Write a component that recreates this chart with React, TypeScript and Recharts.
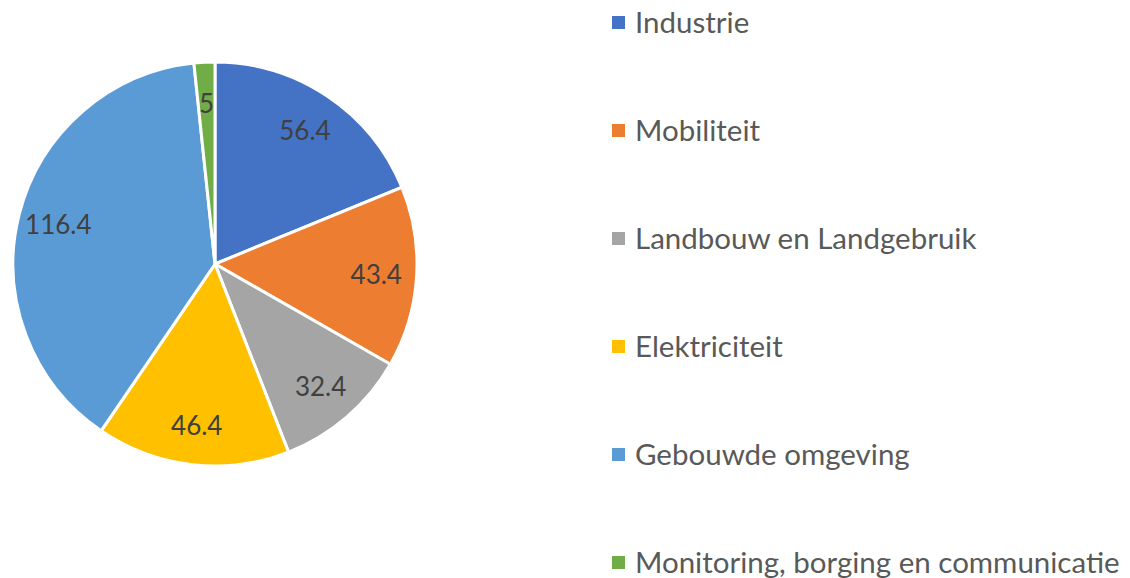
import React from "react";
import { PieChart, Pie, Cell } from "recharts";

const categories = [
  "Industrie",
  "Mobiliteit",
  "Landbouw en Landgebruik",
  "Elektriciteit",
  "Gebouwde omgeving",
  "Monitoring, borging en communicatie",
];
const values = [56.4, 43.4, 32.4, 46.4, 116.4, 5];
const colors = ["#4472C4", "#ED7D31", "#A5A5A5", "#FFC000", "#5B9BD5", "#70AD47"];

const data = categories.map((name, i) => ({ name, value: values[i] }));

const RAD = Math.PI / 180;
const FONT = "Lato, 'Open Sans', sans-serif";

const renderLabel = (props: any) => {
  const { cx, cy, midAngle, outerRadius, value } = props;
  const r = outerRadius * 0.8;
  const x = cx + r * Math.cos(-midAngle * RAD);
  const y = cy + r * Math.sin(-midAngle * RAD);
  return (
    <text
      x={x}
      y={y}
      fill="#404040"
      fontSize={26}
      fontFamily={FONT}
      textAnchor="middle"
      dominantBaseline="central"
    >
      {value}
    </text>
  );
};

// legend drawn beside the chart, Excel style
const LegendList = () => (
  <div style={{ position: "absolute", left: 612, top: -32, fontFamily: FONT }}>
    {categories.map((name, i) => (
      <div key={name} style={{ display: "flex", alignItems: "center", height: 108 }}>
        <span style={{ width: 13, height: 13, background: colors[i], marginRight: 10, display: "inline-block" }} />
        <span style={{ fontSize: 29.5, lineHeight: "30px", color: "#595959", whiteSpace: "nowrap" }}>{name}</span>
      </div>
    ))}
  </div>
);

export default function App() {
  return (
    <div style={{ position: "absolute", left: 0, top: 0, width: 1130, height: 578, background: "#fff", overflow: "hidden" }}>
      <PieChart width={1130} height={578} margin={{ top: 0, right: 0, bottom: 0, left: 0 }}>
        <Pie
          data={data}
          dataKey="value"
          nameKey="name"
          cx={215}
          cy={264}
          outerRadius={202}
          startAngle={90}
          endAngle={-270}
          stroke="#fff"
          strokeWidth={3}
          label={renderLabel}
          labelLine={false}
          isAnimationActive={false}
        >
          {data.map((d, i) => (
            <Cell key={d.name} fill={colors[i]} />
          ))}
        </Pie>
      </PieChart>
      <LegendList />
    </div>
  );
}
